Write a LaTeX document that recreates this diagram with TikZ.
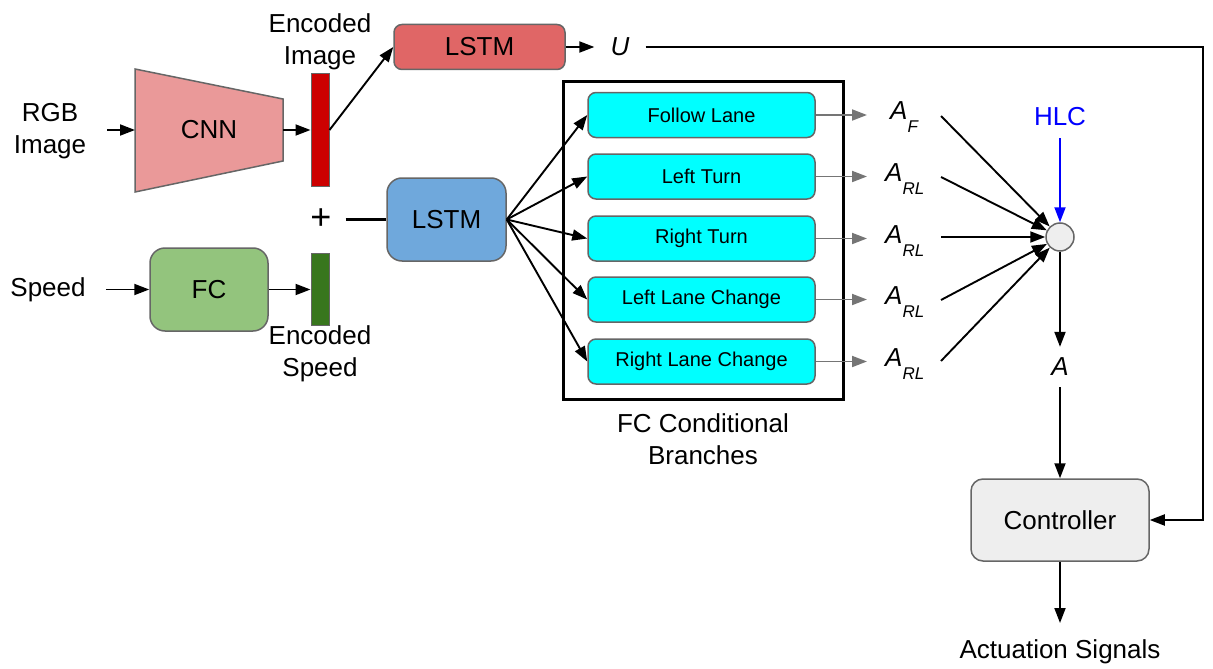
\documentclass[tikz,border=0pt]{standalone}
\usepackage{fontspec}
\setmainfont{Liberation Sans}
\usetikzlibrary{arrows.meta}

\definecolor{cnnfill}{HTML}{EA9999}
\definecolor{lstmred}{HTML}{E06666}
\definecolor{lstmblue}{HTML}{6FA8DC}
\definecolor{fcgreen}{HTML}{93C47D}
\definecolor{encred}{HTML}{CC0000}
\definecolor{encgreen}{HTML}{38761D}
\definecolor{edge}{HTML}{666666}
\definecolor{lightbox}{HTML}{EEEEEE}
\definecolor{branch}{HTML}{00FFFF}
\definecolor{hlcblue}{HTML}{0000FF}

\newcommand{\bigfont}{\fontsize{26}{32}\selectfont}
\newcommand{\smallfont}{\fontsize{20}{24}\selectfont}
\newcommand{\actlabel}[1]{\textit{A}\raisebox{-0.5em}{\fontsize{17}{17}\selectfont\textit{#1}}}

\tikzset{
  arr/.style={line width=1.9pt, -{Triangle[length=15pt,width=11pt]}},
  grayarr/.style={arr, draw=edge!90},
  blk/.style={draw=edge, line width=1.5pt, rounded corners=#1},
  blk/.default=8pt,
  bar/.style={draw=edge, line width=1pt, minimum width=18pt, inner sep=0pt},
  txt/.style={font=\bigfont, align=center, inner sep=0pt},
  branchbox/.style={blk=8pt, fill=branch, minimum width=227pt, minimum height=45pt, font=\smallfont, inner sep=0pt},
  alabel/.style={font=\bigfont, anchor=west, inner sep=0pt},
}

\begin{document}
\begin{tikzpicture}[x=1pt, y=-1pt]
\useasboundingbox (0,0) rectangle (1213,669);

% image branch
\node[txt, inner xsep=19pt] (rgb) at (50,131) {RGB\\Image};
\coordinate (cnnL) at (135,130);
\coordinate (cnnR) at (283,130);
\coordinate (rgbout) at (107,130);
\draw[fill=cnnfill, draw=edge, line width=1.5pt] (135,69) -- (283,99) -- (283,161) -- (135,192) -- cycle;
\node[txt] (cnn) at (209,130) {CNN};
\node[bar, fill=encred, minimum height=112pt] (encimg) at (320,130) {};
\node[txt] (encimgtxt) at (320,42) {Encoded\\Image};
\draw[arr] (rgbout) -- (cnnL);
\draw[arr] (cnnR) -- (encimg.west);

\node[blk, fill=lstmred, minimum width=171pt, minimum height=45pt, font=\bigfont] (lstm1) at (479.5,47) {LSTM};
\draw[arr] (encimg.east) -- (lstm1.west);
\node[txt, inner xsep=16pt] (u) at (620,47) {\textit{U}};
\draw[arr] (lstm1.east) -- (u.west);

% speed branch
\node[txt, inner xsep=20pt] (speed) at (48,289.5) {Speed};
\node[blk=15pt, fill=fcgreen, minimum width=118pt, minimum height=83pt, font=\bigfont] (fc) at (209,289.5) {FC};
\node[bar, fill=encgreen, minimum height=72pt] (encspd) at (320,289.5) {};
\node[txt] (encspdtxt) at (320,354) {Encoded\\Speed};
\draw[arr] (speed.east) -- (fc.west);
\draw[arr] (fc.east) -- (encspd.west);

% concatenation and recurrent core
\node[font=\fontsize{36}{36}\selectfont, inner xsep=14pt, inner ysep=0pt] (plus) at (321,219.5) {+};
\node[blk=15pt, fill=lstmblue, minimum width=119pt, minimum height=83pt, font=\bigfont] (lstm2) at (446.5,219.5) {LSTM};
\draw[line width=2.5pt] (plus.east) -- (lstm2.west);

% conditional branches
\node[draw=black, line width=3pt, minimum width=280pt, minimum height=317pt, inner sep=0pt] (fcbox) at (703,240.5) {};
\node[txt] (fcboxtxt) at (703,439) {FC Conditional\\Branches};

\node[branchbox] (b1) at (701.5,115) {Follow Lane};
\node[branchbox] (b2) at (701.5,176.5) {Left Turn};
\node[branchbox] (b3) at (701.5,238.5) {Right Turn};
\node[branchbox] (b4) at (701.5,299.5) {Left Lane Change};
\node[branchbox] (b5) at (701.5,361.5) {Right Lane Change};

\foreach \i in {1,...,5} {
  \draw[arr] (lstm2.east) -- (b\i.west);
}

% branch outputs
\node[alabel] (a1) at (890,117) {\actlabel{F}};
\node[alabel] (a2) at (885,179) {\actlabel{RL}};
\node[alabel] (a3) at (885,241) {\actlabel{RL}};
\node[alabel] (a4) at (885,302) {\actlabel{RL}};
\node[alabel] (a5) at (885,364) {\actlabel{RL}};

\coordinate (t1) at (867,115);
\coordinate (t2) at (867,176.5);
\coordinate (t3) at (867,238.5);
\coordinate (t4) at (867,299.5);
\coordinate (t5) at (867,361.5);
\foreach \i in {1,...,5} {
  \draw[grayarr] (b\i.east) -- (t\i);
}

% command selection
\node[circle, draw=edge, fill=lightbox, line width=1.5pt, minimum size=28pt, inner sep=0pt] (sel) at (1060,237) {};
\coordinate (s1) at (941,116);
\coordinate (s2) at (941,177);
\coordinate (s3) at (941,237);
\coordinate (s4) at (941,300);
\coordinate (s5) at (941,361);
\foreach \i in {1,...,5} {
  \draw[arr] (s\i) -- (sel);
}

\node[txt, text=hlcblue, inner ysep=12pt] (hlc) at (1060,117) {HLC};
\draw[arr, draw=hlcblue] (hlc.south) -- (sel.north);

\node[txt, inner ysep=11pt] (aout) at (1060,367) {\textit{A}};
\draw[arr] (sel.south) -- (aout.north);

% controller
\node[blk=12pt, fill=lightbox, minimum width=178pt, minimum height=82pt, font=\bigfont] (ctrl) at (1060,520) {Controller};
\draw[arr] (aout.south) -- (ctrl.north);

\node[txt, anchor=north, inner ysep=0pt] (act) at (1060,639) {Actuation Signals};
\coordinate (actin) at (1060,623);
\draw[arr] (ctrl.south) -- (actin);

% feedback of U to the controller
\coordinate (fb) at (1203,520);
\draw[arr] (u.east) -| (fb) -- (ctrl.east);

\end{tikzpicture}
\end{document}
